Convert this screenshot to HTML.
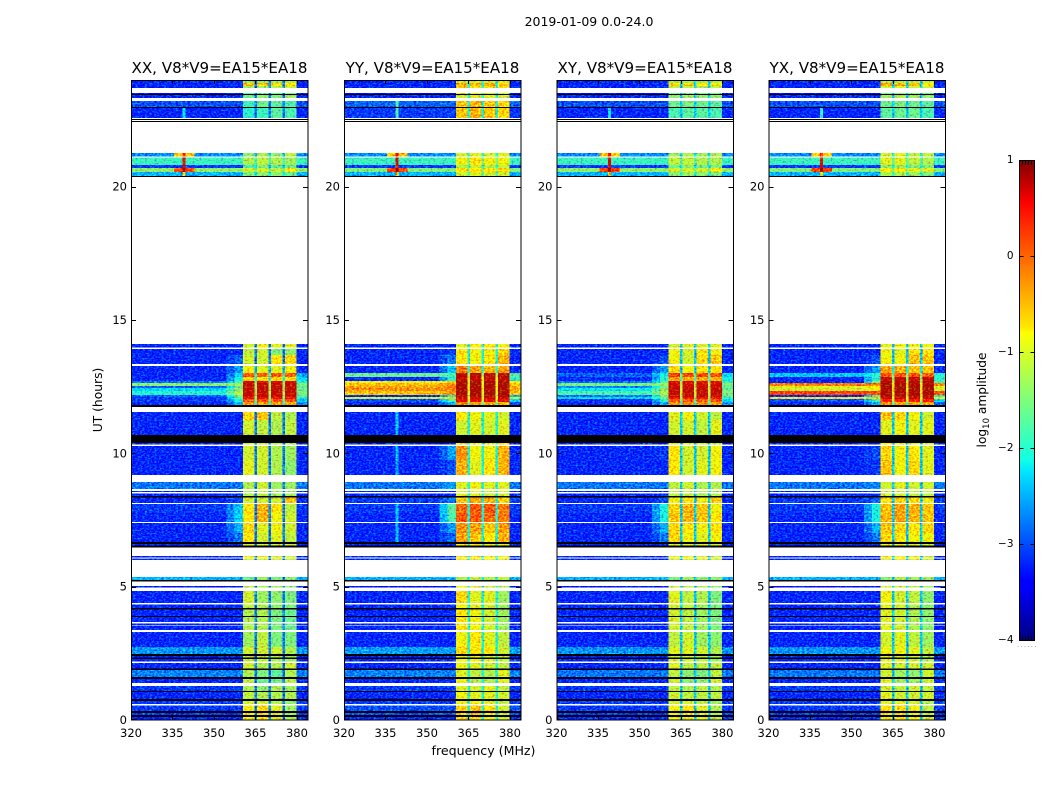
<!DOCTYPE html>
<html lang="en">
<head>
<meta charset="utf-8">
<title>2019-01-09 dynamic spectra</title>
<style>
html,body{margin:0;padding:0;background:#fff;}
svg{display:block;}
text{font-family:"DejaVu Sans","Liberation Sans",sans-serif;fill:#000;}
</style>
</head>
<body>
<svg id="figure" width="1050" height="800" viewBox="0 0 1050 800" xmlns="http://www.w3.org/2000/svg">
  <defs>
    <filter id="speckle" x="0" y="0" width="1" height="1" color-interpolation-filters="sRGB">
      <feTurbulence type="fractalNoise" baseFrequency="0.42 0.6" numOctaves="2" seed="7" result="n"/>
      <feColorMatrix in="n" type="matrix" values="0 0 0 0 0.5  0 1 0 0 0  0 0 0 0 0.5  0 0 0 0 1" result="g"/>
      <feComposite in="SourceGraphic" in2="g" operator="arithmetic" k1="0" k2="1" k3="1.4" k4="-0.7" result="m"/>
      <feComposite in="m" in2="SourceAlpha" operator="in"/>
    </filter>
    <linearGradient id="jet" x1="0" y1="1" x2="0" y2="0">
      <stop offset="0" stop-color="#000080"/>
      <stop offset="0.11" stop-color="#0000ff"/>
      <stop offset="0.125" stop-color="#0000ff"/>
      <stop offset="0.35" stop-color="#00e5ff"/>
      <stop offset="0.375" stop-color="#10ffe6"/>
      <stop offset="0.5" stop-color="#7dff7a"/>
      <stop offset="0.64" stop-color="#ffff00"/>
      <stop offset="0.65" stop-color="#ffea00"/>
      <stop offset="0.89" stop-color="#ff1400"/>
      <stop offset="0.91" stop-color="#ff0000"/>
      <stop offset="1" stop-color="#800000"/>
    </linearGradient>
  </defs>
  <text x="589" y="26" font-size="12.5" text-anchor="middle">2019-01-09 0.0-24.0</text>
  <text x="0" y="0" font-size="12.3" text-anchor="middle" transform="translate(102,400) rotate(-90)">UT (hours)</text>
  <text x="483.5" y="755" font-size="12.6" text-anchor="middle">frequency (MHz)</text>
  <g id="panels"></g>
  <g id="colorbar">
    <rect x="1019" y="160" width="15.5" height="480" fill="url(#jet)"/>
    <rect x="1019.5" y="160.5" width="15" height="480" fill="none" stroke="#000" stroke-width="1"/>
    <text font-size="12.2" text-anchor="middle" transform="translate(986,400) rotate(-90)">log<tspan font-size="8.5" dy="3">10</tspan><tspan dy="-3"> amplitude</tspan></text>
    <text x="1017" y="647" font-size="7" letter-spacing="1.2" style="fill:#888">......</text>
  </g>
</svg>
<script>
// Axis tick labels
const freqTicks = [320, 335, 350, 365, 380];
const hourTicks = [0, 5, 10, 15, 20];
const colorTicks = [1, 0, -1, -2, -3, -4];
const panelTitles = ["XX, V8*V9=EA15*EA18", "YY, V8*V9=EA15*EA18", "XY, V8*V9=EA15*EA18", "YX, V8*V9=EA15*EA18"];

// Frequency channel edges (MHz)
const freqEdges = [320, 335.5, 338.6, 339.7, 343, 354.5, 357.5, 360.5, 364.7, 365.6, 369.8, 370.7, 374.8, 375.7, 379.8, 383.9];

// Time slice edges (hours, top of plot first)
const timeEdges = [24,23.89,23.78,23.7,23.51,23.48,23.44,23.33,23.21,22.99,22.95,22.58,22.54,22.5,22.46,22.43,21.26,21.13,21.09,20.81,20.7,20.55,20.4,20.36,14.1,13.97,13.91,13.69,13.35,13.28,13.01,12.86,12.71,12.64,12.53,12.45,12.34,12.19,12.11,12.04,11.93,11.81,11.74,11.55,11.25,10.69,10.39,10.33,10.28,9.75,9.19,8.93,8.66,8.59,8.55,8.49,8.4,8.34,8.14,8.1,7.76,7.43,7.39,7.01,6.68,6.6,6.54,6.47,6.15,6.1,6.06,6,5.36,5.25,5.19,5.03,4.97,4.84,4.39,4.33,4.2,4.14,3.9,3.86,3.68,3.62,3.57,3.54,3.38,3.3,2.74,2.48,2.4,2.34,2.29,2.19,2.13,1.94,1.88,1.62,1.53,1.38,1.28,1.09,1.05,0.78,0.72,0.6,0.55,0.34,0.27,0.19,0.12,0];

// State of each time slice: d = data, w = no data (blank), k = zero amplitude (black)
const rowStates = "dddwdkdwdkdwkwkwdwddddkwdwddwddddddddddddkwddkdwddwdwdwdkdwddwddkdkwdwdwdkwdwdwdkdkdwdwdwddkdkdwdkdkdwdkdkdwdkdkd";

// Log10 amplitude rows: [background, wing, sub1, sub2, sub3, sub4, gap, edge, rfi-channel, rfi-flare]
const xxValues = [
[-3.2,-3.2,-1.4,-1.4,-1.4,-1.2],[-3.2,-3.2,-.5,-.5,-.7,-.7],[-3.2,-3.2,-1.3,-1.3,-1.2,-1],
[-3.5,-3.5,-1.7,-1.6,-1.6,-1.6],[-3.2,-3.2,-1.6,-1.4,-1.5,-1.3],
[-3,-3,-1.9,-1.6,-1.7,-1.8],[-3.2,-3.2,-2,-1.9,-1.7,-1.8,,,-2.2],
[-2.7,-2.7,-1.4,-1.2,-1.4,-1.1,-2.5,-2.7,.4,-.5],
[-1.9,-1.9,-1.2,-1.1,-1.2,-1.3,-1.8,-1.9,.6],[-3.1,-3.1,-1.8,-1.5,-1.7,-1.6,-2.5,-3.1,.6],[-1.4,-1.4,-1,-1,-1.1,-.8,-1.6,-1.4,.9,.2],[-2.5,-2.5,-1.5,-1.4,-1.4,-1.6,-2.2,-2.5,-.5],
[-3.2,-3.2,-1,-.8,-.9,-.9],
[-3.2,-3.2,-1.1,-1,-1.5,-1.4],[-3.2,-2.9,-1,-1,-.7,-.6],
[-3.2,-2.6,-.8,-.9,-.9,-.8,-2.6],[-3.2,-2.4,.1,.05,.1,.05,-1.8,-2.5],[-3.2,-2.1,-.6,-.7,-.6,-.7,-2,-2.3],
[-2.8,-1.9,.65,.6,.6,.65,-1.5,-2],[-1.4,-1.3,.7,.7,.7,.7,-1.2,-1.5],[-2.9,-1.6,.7,.7,.7,.7,-1.3,-1.7],[-2.3,-1.4,.7,.7,.7,.7,-1.2,-1.6],[-2,-1.2,.7,.7,.7,.7,-1.1,-1.5],[-2.9,-1.5,.7,.7,.7,.7,-1.3,-1.7],[-3.1,-1.7,.5,.5,.5,.5,-1.4,-2],[-3.1,-2.1,.1,.1,.1,.1,-1.7,-2.4],[-3.2,-2.5,-.3,-.3,-.3,-.3,-2,-2.7],
[-3.2,-3.2,-.6,-.5,-1.1,-1.2],[-3.2,-3.2,-1,-1.1,-1.2,-1.1],[-3.2,-3.2,-1,-1,-1.2,-1.2],
[-3.2,-3.2,-1,-1,-1.2,-1.3],[-3.2,-3.2,-.9,-1,-1.2,-1.4],
[-2.8,-2.8,-1.2,-1,-1.3,-1.3],[-3.2,-3.2,-1.2,-1.1,-1.3,-1.3],[-3.2,-3.2,-1.2,-1.1,-1.3,-1.3],[-3.2,-3,-1,-1,-1,-.5],
[-3.1,-2.4,-.7,-.4,-.7,-1.1],[-3.2,-2.3,-.7,-.4,-.8,-1],[-3.2,-2.5,-.6,-.9,-.8,-1],[-3.2,-2.8,-.7,-1,-.9,-1.1],
[-3.2,-3.2,-1,-1,-1,-1],[-3.2,-3.2,-.8,-.8,-.9,-1],[-3.2,-3.2,-1,-1,-1,-1.1],
[-2.5,-2.5,-1.6,-1.3,-1.5,-1.4],[-3.3,-3.3,-1.1,-1.2,-1.3,-1.4],[-3.2,-3.2,-1,-1.3,-1.4,-1.5],[-3.2,-3.2,-1.1,-1.2,-1.4,-1.5],
[-3.2,-3.2,-1.2,-1.2,-1.5,-1.6],[-3.2,-3.2,-1.2,-1.2,-1.5,-1.6],[-3.2,-3.2,-1.2,-1.2,-1.5,-1.6],[-3.2,-3.2,-1.2,-1.2,-1.5,-1.6],
[-3.2,-3.2,-1.3,-1.1,-1.5,-1.5],[-2.65,-2.65,-1,-1,-1,-1.2],[-3.2,-3.2,-1.1,-1.1,-1.2,-1.3],[-3.2,-3.2,-1.1,-1.1,-1.2,-1.3],[-3.2,-3.2,-1,-1.2,-1.2,-1],
[-2.75,-2.75,-1.2,-1.5,-1.7,-1.2],[-3.2,-3.2,-1.1,-1.6,-1.6,-1.1],[-3.1,-3.1,-1.2,-1.4,-1.2,-1.3],[-3.2,-3.2,-1.1,-1.2,-1.2,-1.2],[-3.1,-3.1,-1,-1,-1.2,-1.4],[-3.1,-3.1,-.8,-.6,-.9,-1.3],[-3.1,-3.1,-.7,-.6,-.9,-1.3],[-3.2,-3.2,-.8,-.7,-.9,-1.2]
];
const yyValues = [
[-3.2,-3.2,-1,-1,-1,-.9],[-3.2,-3.2,-.3,-.4,-.4,-.5],[-3.2,-3.2,-.5,-.6,-.5,-.6],
[-3.5,-3.5,-.9,-.9,-.9,-1],[-3.2,-3.2,-1,-.9,-.9,-1],
[-2.9,-2.9,-.5,-.4,-.5,-.6,,,-1.8],[-3.1,-3.1,-.5,-.4,-.5,-.6,,,-1.8],
[-2.7,-2.7,-1,-.9,-1,-.9,-2,-2.7,.5,-.5],
[-1.9,-1.9,-.8,-.7,-.8,-.8,-1.5,-1.9,.7],[-3.1,-3.1,-1.2,-1,-1.2,-1.1,-2,-3.1,.5],[-1.5,-1.5,-.7,-.7,-.7,-.6,-1.3,-1.5,.9,.2],[-2.5,-2.5,-1,-.9,-1,-1,-1.8,-2.5,-.3],
[-3.2,-3.2,-.9,-.7,-.7,-.8],
[-3.2,-3.1,-.7,-.8,-.8,-.6],[-3.2,-2.8,-.7,-.8,-.7,-.4],
[-3.2,-2.4,-.1,-.3,-.4,-.3,-2],[-1.6,-1.8,.75,.75,.75,.75,-1.2,-1.7],[-3.2,-2,.7,.7,.7,.7,-.9,-2],
[-.8,-.6,.8,.8,.8,.8,-.9,-.8],[-.5,-.2,.8,.8,.8,.8,-.8,-.5],[-.3,-.1,.8,.8,.8,.8,-.8,-.4],[-.2,-.1,.8,.8,.8,.8,-.8,-.4],[-.5,-.2,.8,.8,.8,.8,-.9,-.5],[-3.2,-2,.75,.75,.75,.75,-1.2,-2.5],[-.9,-.6,.7,.7,.7,.7,-.9,-1],[-3,-1.8,.55,.55,.55,.55,-1,-2.3],[-3.2,-2.5,-.1,-.3,-.3,-.4,-1.6,-3],
[-3.2,-3.2,-.7,-.8,-.9,-1,,,-2.4],[-3.2,-3.2,-1,-.9,-1,-.9,,,-2.4],[-3.2,-3.2,-.5,-.7,-.8,-.6],
[-3.2,-2.6,-.2,-.8,-.8,-.4,,,-2.4],[-3.2,-3,-.4,-.9,-.7,-.4,,,-2.6],
[-2.8,-2.6,-.9,-.8,-.9,-.9],[-3.2,-3.2,-.9,-.9,-1,-1],[-3.2,-3.2,-.9,-.9,-1,-1],[-3.1,-2.8,-.5,-.3,-.4,-.6],
[-3.1,-1.7,0,.1,.1,-.1,,,-2.4],[-3.2,-1.8,.1,.1,0,-.1,,,-2.4],[-3.2,-2.6,-.2,-.3,-.5,-.3,,,-2.4],[-3.2,-2.9,-.3,-.5,-.7,-.4,,,-2.4],
[-3.2,-3.2,-.7,-.7,-.8,-.9],[-3.2,-3.2,-.6,-.6,-.7,-.8],[-3.2,-3.2,-.8,-.8,-.8,-.9],
[-2.5,-2.5,-1.2,-1.1,-1.2,-1.1],[-3.3,-3.3,-.8,-.9,-1,-1.2],[-3.2,-3.2,-.6,-.9,-.9,-1.3],[-3.2,-3.2,-.8,-.9,-1,-1.3],
[-3.2,-3.2,-.7,-.8,-1,-1.3],[-3.2,-3.2,-.7,-.8,-1,-1.3],[-3.2,-3.2,-.7,-.8,-1,-1.3],[-3.2,-3.2,-.7,-.8,-1,-1.3],
[-3.2,-3.2,-.8,-.7,-.9,-1.1],[-2.6,-2.6,-.6,-.7,-.7,-1],[-3.2,-3.2,-.8,-.8,-.9,-1.1],[-3.2,-3.2,-.8,-.8,-.9,-1.1],[-3.2,-3.2,-.8,-.9,-1,-1.1],
[-2.75,-2.75,-.9,-1.1,-1.2,-.9],[-3.2,-3.2,-.8,-1.2,-1.2,-.9],[-3.1,-3.1,-.9,-1,-.9,-1.1],[-3.2,-3.2,-.8,-.9,-.9,-1],[-3.1,-3.1,-.8,-.8,-.9,-1.1],[-3,-3,-.6,-.5,-.7,-1],[-3,-3,-.6,-.5,-.7,-1],[-3.2,-3.2,-.7,-.6,-.8,-1]
];
const xyValues = [
[-3.2,-3.2,-1.3,-1.3,-1.3,-1.2],[-3.2,-3.2,-.6,-.6,-.7,-.8],[-3.2,-3.2,-1.1,-1.1,-1.2,-1.1],
[-3.5,-3.5,-1.5,-1.5,-1.5,-1.5],[-3.2,-3.2,-1.4,-1.3,-1.4,-1.4],
[-3,-3,-1.6,-1.5,-1.6,-1.7],[-3.2,-3.2,-1.8,-1.7,-1.7,-1.8,,,-2.2],
[-2.7,-2.7,-1.3,-1.2,-1.3,-1.2,-2.3,-2.7,.4,-.5],
[-1.9,-1.9,-1.1,-1.1,-1.2,-1.2,-1.7,-1.9,.6],[-3.1,-3.1,-1.6,-1.4,-1.6,-1.5,-2.3,-3.1,.6],[-1.4,-1.4,-1,-1,-1,-.8,-1.5,-1.4,.9,.2],[-2.5,-2.5,-1.4,-1.3,-1.4,-1.5,-2.1,-2.5,-.5],
[-3.2,-3.2,-1,-.9,-.9,-.9],
[-3.2,-3.2,-.8,-1,-.7,-.8],[-3.2,-3,-.8,-1,-.6,-.5],
[-3.2,-2.6,-.6,-.8,-.7,-.7,-2.4],[-2.9,-2.1,.25,.2,.2,.2,-1.6,-2.3],[-3.2,-2,-.3,-.4,-.4,-.4,-1.8,-2.1],
[-2.8,-1.8,.6,.6,.6,.6,-1.3,-1.9],[-1.5,-1.3,.65,.65,.65,.65,-1.1,-1.5],[-2.7,-1.6,.65,.65,.65,.65,-1.2,-1.7],[-2.2,-1.4,.7,.7,.7,.7,-1.1,-1.6],[-1.8,-1.2,.7,.7,.7,.7,-1,-1.5],[-2.8,-1.5,.7,.7,.7,.7,-1.2,-1.7],[-2.3,-1.6,.5,.5,.5,.5,-1.3,-1.9],[-3.1,-2,.1,.1,.1,.1,-1.6,-2.3],[-3.2,-2.5,-.2,-.2,-.2,-.3,-1.9,-2.6],
[-3.2,-3.2,-.9,-.8,-1,-1.1],[-3.2,-3.2,-1,-1,-1.1,-.9],[-3.2,-3.2,-.9,-.9,-1,-1],
[-3.2,-3.1,-.7,-1,-1,-.8],[-3.2,-3.2,-.7,-1,-.9,-.8],
[-2.8,-2.8,-1.1,-1,-1.2,-1.2],[-3.2,-3.2,-1.1,-1.1,-1.2,-1.2],[-3.2,-3.2,-1.1,-1.1,-1.2,-1.2],[-3.2,-3,-.8,-.7,-.8,-.6],
[-3.1,-2.1,-.6,-.4,-.5,-.8],[-3.2,-2.1,-.5,-.4,-.5,-.7],[-3.2,-2.5,-.6,-.7,-.8,-.7],[-3.2,-2.8,-.6,-.8,-.9,-.8],
[-3.2,-3.2,-.9,-.9,-.9,-1],[-3.2,-3.2,-.8,-.8,-.9,-1],[-3.2,-3.2,-1,-.9,-.9,-1],
[-2.5,-2.5,-1.5,-1.3,-1.4,-1.4],[-3.3,-3.3,-1,-1.1,-1.2,-1.4],[-3.2,-3.2,-.9,-1.1,-1.2,-1.5],[-3.2,-3.2,-1,-1.1,-1.3,-1.5],
[-3.2,-3.2,-1,-1.1,-1.3,-1.5],[-3.2,-3.2,-1,-1.1,-1.3,-1.5],[-3.2,-3.2,-1,-1.1,-1.3,-1.5],[-3.2,-3.2,-1,-1.1,-1.3,-1.5],
[-3.2,-3.2,-1.1,-1,-1.3,-1.4],[-2.65,-2.65,-.9,-.9,-1,-1.2],[-3.2,-3.2,-1,-1,-1.1,-1.3],[-3.2,-3.2,-1,-1,-1.1,-1.3],[-3.2,-3.2,-.9,-1.1,-1.1,-1.1],
[-2.8,-2.8,-1.1,-1.4,-1.5,-1.1],[-3.2,-3.2,-1,-1.4,-1.4,-1],[-3.1,-3.1,-1.1,-1.2,-1.1,-1.2],[-3.2,-3.2,-1,-1.1,-1.1,-1.1],[-3.1,-3.1,-1,-1,-1.1,-1.3],[-3.1,-3.1,-.8,-.7,-.9,-1.2],[-3.1,-3.1,-.8,-.7,-.9,-1.2],[-3.2,-3.2,-.8,-.8,-.9,-1.1]
];
const yxValues = [
[-3.2,-3.2,-1.2,-1.2,-1.2,-1.1],[-3.2,-3.2,-.4,-.4,-.5,-.7],[-3.2,-3.2,-1,-.9,-1,-1],
[-3.5,-3.5,-1.5,-1.4,-1.4,-1.5],[-3.2,-3.2,-1.3,-1.2,-1.3,-1.4],
[-3,-3,-1.6,-1.5,-1.6,-1.7],[-3.2,-3.2,-1.7,-1.6,-1.6,-1.8,,,-2],
[-2.7,-2.7,-1,-.9,-1.1,-1.1,-2.1,-2.7,.4,-.5],
[-1.9,-1.9,-.9,-.9,-1.1,-1.2,-1.7,-1.9,.6],[-3.1,-3.1,-1.4,-1.3,-1.5,-1.5,-2.2,-3.1,.6],[-1.5,-1.5,-.8,-.8,-.9,-.9,-1.4,-1.5,.9,.2],[-2.5,-2.5,-1.2,-1.2,-1.3,-1.5,-2,-2.5,-.5],
[-3.2,-3.2,-.9,-.8,-.8,-.8],
[-3.2,-3.2,-.8,-.9,-.6,-.7],[-3.2,-3,-.8,-.8,-.5,-.5],
[-3.2,-2.6,-.3,-.4,-.5,-.5,-2.2],[-2.4,-2,.1,.1,.1,.1,-1.4,-2],[-3.2,-2,.7,.7,.7,.7,-1.4,-2],
[-3.2,-1.6,.75,.75,.75,.75,-1.2,-1.8],[-.1,-.1,.8,.8,.8,.8,-.7,-.2],[-.9,-.7,.8,.8,.8,.8,-.9,-.9],[-1,-.8,.8,.8,.8,.8,-.9,-1],[.2,.2,.8,.8,.8,.8,-.6,.1],[-3.2,-1.7,.75,.75,.75,.75,-1.2,-2],[-.7,-.5,.7,.7,.7,.7,-.8,-.7],[-3,-1.9,.4,.4,.4,.4,-1.2,-2.3],[-3.2,-2.5,-.2,-.3,-.3,-.3,-1.8,-2.9],
[-3.2,-3.2,-.5,-.6,-.8,-1],[-3.2,-3.2,-.9,-.8,-.9,-.9],[-3.2,-3.2,-.7,-.8,-.9,-.9],
[-3.2,-3,-.6,-.8,-.7,-.9],[-3.2,-3.1,-.5,-.8,-.6,-.9],
[-2.8,-2.7,-1,-.9,-1,-1],[-3.2,-3.2,-1,-1,-1.1,-1.1],[-3.2,-3.2,-1,-1,-1.1,-1.1],[-3.1,-2.9,-.7,-.6,-.6,-.8],
[-3.1,-2.1,-.5,-.3,-.4,-.5],[-3.2,-2.1,-.4,-.3,-.4,-.5],[-3.2,-2.5,-.5,-.6,-.7,-.6],[-3.2,-2.8,-.6,-.7,-.8,-.8],
[-3.2,-3.2,-.8,-.8,-.9,-1],[-3.2,-3.2,-.7,-.7,-.8,-1],[-3.2,-3.2,-.9,-.8,-.9,-1],
[-2.5,-2.5,-1.4,-1.2,-1.3,-1.3],[-3.3,-3.3,-.9,-1,-1.1,-1.3],[-3.2,-3.2,-.8,-1,-1.1,-1.4],[-3.2,-3.2,-.9,-1,-1.2,-1.4],
[-3.2,-3.2,-.9,-1,-1.2,-1.4],[-3.2,-3.2,-.9,-1,-1.2,-1.4],[-3.2,-3.2,-.9,-1,-1.2,-1.4],[-3.2,-3.2,-.9,-1,-1.2,-1.4],
[-3.2,-3.2,-1,-.9,-1.1,-1.3],[-2.65,-2.65,-.8,-.8,-.9,-1.1],[-3.2,-3.2,-.9,-.9,-1,-1.2],[-3.2,-3.2,-.9,-.9,-1,-1.2],[-3.2,-3.2,-.9,-1,-1,-1],
[-2.8,-2.8,-1,-1.3,-1.4,-1],[-3.2,-3.2,-.9,-1.3,-1.3,-1],[-3.1,-3.1,-1,-1.1,-1,-1.1],[-3.2,-3.2,-.9,-1,-1,-1],[-3.1,-3.1,-.9,-.9,-1,-1.2],[-3.1,-3.1,-.7,-.6,-.8,-1.1],[-3.1,-3.1,-.7,-.6,-.8,-1.1],[-3.2,-3.2,-.8,-.7,-.8,-1]
];
const panelValues = [xxValues, yyValues, xyValues, yxValues];
const gapDefaults = [-2.8, -2.1, -2.4, -2.4];
const panelNames = ["xx", "yy", "xy", "yx"];
const panelLefts = [131, 344, 556.5, 768.5];

const SVG_NS = "http://www.w3.org/2000/svg";
const AX_TOP = 80, AX_BOTTOM = 720, AX_WIDTH = 177;
const X_MIN = 320, X_MAX = 384;
const C_MIN = -4, C_MAX = 1, CB_TOP = 160, CB_BOTTOM = 640;

function xScale(left, f) { return left + (f - X_MIN) / (X_MAX - X_MIN) * AX_WIDTH; }
function yScale(h) { return AX_BOTTOM - h / 24 * (AX_BOTTOM - AX_TOP); }
function cScale(v) { return CB_BOTTOM - (v - C_MIN) / (C_MAX - C_MIN) * (CB_BOTTOM - CB_TOP); }

function ramp(t, pts) {
  for (let i = 1; i < pts.length; i++) {
    if (t <= pts[i][0]) {
      const a = pts[i - 1], b = pts[i];
      return a[1] + (t - a[0]) / (b[0] - a[0]) * (b[1] - a[1]);
    }
  }
  return pts[pts.length - 1][1];
}
function jet(v) {
  const t = Math.max(0, Math.min(1, (v - C_MIN) / (C_MAX - C_MIN)));
  const r = ramp(t, [[0, 0], [.35, 0], [.66, 1], [.89, 1], [1, .5]]);
  const g = ramp(t, [[0, 0], [.125, 0], [.375, 1], [.64, 1], [.91, 0], [1, 0]]);
  const b = ramp(t, [[0, .5], [.11, 1], [.34, 1], [.65, 0], [1, 0]]);
  return "rgb(" + Math.round(r * 255) + "," + Math.round(g * 255) + "," + Math.round(b * 255) + ")";
}
function columnValue(row, col, gapDefault) {
  const bg = row[0], wing = row[1];
  const gap = row[6] !== undefined ? row[6] : gapDefault;
  const edge = row[7] !== undefined ? row[7] : bg;
  const spike = row[8] !== undefined ? row[8] : bg;
  const flare = row[9] !== undefined ? row[9] : bg;
  return [bg, flare, spike, flare, bg, (bg + wing) / 2, wing, row[2], gap, row[3], gap, row[4], gap, row[5], edge][col];
}
function svgEl(tag, parent) {
  const el = document.createElementNS(SVG_NS, tag);
  parent.appendChild(el);
  return el;
}

const panelsRoot = document.getElementById("panels");
panelValues.forEach(function (values, p) {
  const left = panelLefts[p];
  const name = panelNames[p];
  const g = svgEl("g", panelsRoot);
  
  

  const cells = svgEl("g", g);
  
  
  cells.setAttribute("filter", "url(#speckle)");
  cells.setAttribute("shape-rendering", "crispEdges");
  const flagged = svgEl("g", g);
  
  
  flagged.setAttribute("shape-rendering", "crispEdges");

  let d = 0;
  for (let r = 0; r < rowStates.length; r++) {
    const y0 = yScale(timeEdges[r]);
    const y1 = yScale(timeEdges[r + 1]);
    const state = rowStates[r];
    if (state === "w") continue;
    if (state === "k") {
      const bar = svgEl("rect", flagged);
      
      
      bar.setAttribute("x", xScale(left, freqEdges[0]));
      bar.setAttribute("y", y0);
      bar.setAttribute("width", xScale(left, freqEdges[freqEdges.length - 1]) - xScale(left, freqEdges[0]));
      bar.setAttribute("height", Math.max(1, y1 - y0));
      bar.setAttribute("fill", "#000");
      continue;
    }
    const row = values[d++];
    for (let c = 0; c < freqEdges.length - 1; c++) {
      const x0 = xScale(left, freqEdges[c]);
      const x1 = xScale(left, freqEdges[c + 1]);
      const cell = svgEl("rect", cells);
      
      
      cell.setAttribute("x", x0);
      cell.setAttribute("y", y0);
      cell.setAttribute("width", x1 - x0);
      cell.setAttribute("height", Math.max(1, y1 - y0));
      cell.setAttribute("fill", jet(columnValue(row, c, gapDefaults[p])));
    }
  }

  const frame = svgEl("rect", g);
  
  
  frame.setAttribute("x", left + .5);
  frame.setAttribute("y", AX_TOP + .5);
  frame.setAttribute("width", AX_WIDTH - .5);
  frame.setAttribute("height", AX_BOTTOM - AX_TOP - .5);
  frame.setAttribute("fill", "none");
  frame.setAttribute("stroke", "#000");
  frame.setAttribute("stroke-width", "1");

  const title = svgEl("text", g);
  
  
  title.setAttribute("x", left + AX_WIDTH / 2);
  title.setAttribute("y", 73);
  title.setAttribute("font-size", "15.1");
  title.setAttribute("text-anchor", "middle");
  title.textContent = panelTitles[p];

  freqTicks.forEach(function (f) {
    const x = Math.round(xScale(left, f)) + .5;
    [[AX_BOTTOM, AX_BOTTOM - 4], [AX_TOP, AX_TOP + 4]].forEach(function (seg) {
      const t = svgEl("line", g);
      
      
      t.setAttribute("x1", x); t.setAttribute("x2", x);
      t.setAttribute("y1", seg[0]); t.setAttribute("y2", seg[1]);
      t.setAttribute("stroke", "#000");
    });
    const label = svgEl("text", g);
    
    
    label.setAttribute("x", xScale(left, f));
    label.setAttribute("y", 737);
    label.setAttribute("font-size", "11.5");
    label.setAttribute("text-anchor", "middle");
    label.textContent = String(f);
  });

  hourTicks.forEach(function (h) {
    const y = Math.round(yScale(h)) + (h === 0 ? -.5 : .5);
    [[left, left + 5], [left + AX_WIDTH, left + AX_WIDTH - 5]].forEach(function (seg) {
      const t = svgEl("line", g);
      
      
      t.setAttribute("x1", seg[0]); t.setAttribute("x2", seg[1]);
      t.setAttribute("y1", y); t.setAttribute("y2", y);
      t.setAttribute("stroke", "#000");
    });
    const label = svgEl("text", g);
    
    
    label.setAttribute("x", left - 4);
    label.setAttribute("y", yScale(h) + 4);
    label.setAttribute("font-size", "11.5");
    label.setAttribute("text-anchor", "end");
    label.textContent = String(h);
  });
});

// Colorbar ticks and labels
const colorbarGroup = document.getElementById("colorbar");
const CB_L = 1019.5, CB_R = 1034.5;
colorTicks.forEach(function (v) {
  const y = Math.round(cScale(v)) + .5;
  if (v > C_MIN && v < C_MAX) {
    [[CB_L, CB_L + 4], [CB_R, CB_R - 4]].forEach(function (seg) {
      const t = svgEl("line", colorbarGroup);
      
      
      t.setAttribute("x1", seg[0]); t.setAttribute("x2", seg[1]);
      t.setAttribute("y1", y); t.setAttribute("y2", y);
      t.setAttribute("stroke", "#000");
    });
  }
  const label = svgEl("text", colorbarGroup);
  
  
  label.setAttribute("x", 1013.5);
  label.setAttribute("y", cScale(v) + 3);
  label.setAttribute("font-size", "10.5");
  label.setAttribute("text-anchor", "end");
  label.textContent = String(v).replace("-", "\u2212");
});
const minorOffsets = [3, 6, 9, 12];
minorOffsets.forEach(function (o) {
  [[CB_TOP + .5, CB_TOP + 5], [CB_BOTTOM + .5, CB_BOTTOM - 4]].forEach(function (seg) {
    const t = svgEl("line", colorbarGroup);
    
    
    t.setAttribute("x1", CB_L + o); t.setAttribute("x2", CB_L + o);
    t.setAttribute("y1", seg[0]); t.setAttribute("y2", seg[1]);
    t.setAttribute("stroke", "#000");
  });
});
</script>
</body>
</html>
